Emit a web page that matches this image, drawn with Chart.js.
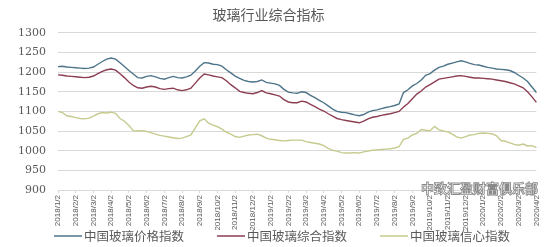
<!DOCTYPE html>
<html>
<head>
<meta charset="utf-8">
<script src="https://cdn.jsdelivr.net/npm/chart.js@4.4.1/dist/chart.umd.min.js"></script>
<style>
  html, body { margin: 0; padding: 0; background: #fff; }
  #wrap { width: 548px; height: 247px; }
</style>
</head>
<body>
<div id="wrap"><canvas id="glassChart" width="548" height="247"></canvas></div>
<script>
// 玻璃行业综合指标 – weekly readings, 4 points per month, 2018/1/2 .. 2020/4/2

const monthLabels = [
  "2018/1/2", "2018/2/2", "2018/3/2", "2018/4/2", "2018/5/2", "2018/6/2", "2018/7/2",
  "2018/8/2", "2018/9/2", "2018/10/2", "2018/11/2", "2018/12/2", "2019/1/2", "2019/2/2",
  "2019/3/2", "2019/4/2", "2019/5/2", "2019/6/2", "2019/7/2", "2019/8/2", "2019/9/2",
  "2019/10/2", "2019/11/2", "2019/12/2", "2020/1/2", "2020/2/2", "2020/3/2", "2020/4/2",
];
const pointsPerMonth = 4;

const seriesNames = ["中国玻璃价格指数", "中国玻璃综合指数", "中国玻璃信心指数"];

const priceIndex = [
  1214, 1215, 1213, 1212, 1211, 1210, 1209, 1210, 1213, 1220, 1227, 1233, 1236, 1233, 1224, 1214,
  1204, 1195, 1186, 1185, 1189, 1191, 1188, 1184, 1182, 1186, 1189, 1186, 1185, 1188, 1192, 1203,
  1215, 1224, 1223, 1220, 1219, 1215, 1206, 1198, 1190, 1184, 1179, 1176, 1175, 1176, 1180, 1174,
  1172, 1170, 1166, 1156, 1149, 1147, 1146, 1150, 1148, 1141, 1135, 1128, 1122, 1114, 1106, 1100,
  1098, 1097, 1094, 1091, 1089, 1092, 1098, 1102, 1104, 1107, 1110, 1112, 1115, 1119, 1148, 1155,
  1165, 1171, 1180, 1192, 1196, 1205, 1212, 1215, 1220, 1223, 1226, 1229, 1226, 1222, 1219, 1218,
  1215, 1212, 1210, 1208, 1207, 1206, 1204, 1199, 1192, 1185, 1176, 1162, 1148,
];

const compositeIndex = [
  1193, 1192, 1190, 1189, 1188, 1187, 1186, 1187, 1190, 1196, 1202, 1206, 1208, 1205, 1196, 1186,
  1175, 1166, 1160, 1159, 1162, 1164, 1162, 1158, 1156, 1158, 1159, 1155, 1153, 1155, 1159, 1172,
  1185, 1195, 1193, 1190, 1188, 1186, 1178, 1168, 1160, 1151, 1148, 1146, 1145, 1148, 1153, 1147,
  1145, 1142, 1139, 1130, 1124, 1122, 1122, 1126, 1124, 1118, 1112, 1106, 1101, 1094, 1088, 1082,
  1079, 1077, 1075, 1073, 1071, 1075, 1081, 1085, 1087, 1090, 1092, 1094, 1097, 1100, 1111, 1120,
  1132, 1144, 1152, 1162, 1168, 1175, 1182, 1184, 1186, 1188, 1190, 1191, 1189, 1187, 1185, 1185,
  1184, 1183, 1182, 1180, 1178, 1176, 1173, 1170, 1165, 1160, 1150, 1137, 1123,
];

const confidenceIndex = [
  1100, 1097, 1089, 1087, 1084, 1082, 1081, 1083, 1088, 1094, 1097, 1096, 1098, 1095, 1082, 1075,
  1064, 1051, 1050, 1051, 1049, 1046, 1042, 1039, 1037, 1035, 1033, 1031, 1032, 1036, 1040, 1058,
  1076, 1081, 1070, 1065, 1061, 1055, 1047, 1042, 1036, 1034, 1037, 1040, 1041, 1042, 1038, 1032,
  1029, 1028, 1026, 1025, 1026, 1027, 1027, 1027, 1023, 1021, 1019, 1017, 1013, 1006, 1001, 999,
  995, 994, 994, 995, 994, 997, 999, 1001, 1002, 1003, 1004, 1005, 1007, 1010, 1029, 1032,
  1040, 1044, 1054, 1052, 1051, 1062, 1053, 1050, 1048, 1042, 1035, 1032, 1036, 1040, 1041, 1044,
  1045, 1044, 1043, 1038, 1026, 1024, 1020, 1016, 1014, 1017, 1012, 1013, 1008,
];

const yTicks = { min: 900, max: 1300, step: 50 };

const colors = ["#4d7489", "#8c3e52", "#c6ca8e"];
const textColor = "#595959";
const gridColor = "#d9d9d9";
const cjkFont = "'Noto Sans CJK SC'";

// one category per weekly point; only month starts carry a label
const labels = priceIndex.map((_, i) =>
  i % pointsPerMonth === 0 ? monthLabels[i / pointsPerMonth] : "");

// legend drawn by hand: line, small gap, text, wide gap (tight vertically like the source)
const lineLegend = {
  id: "lineLegend",
  afterDraw(chart) {
    const c = chart.ctx;
    const y = 236;
    let x = 54;
    c.save();
    c.font = `12.5px ${cjkFont}`;
    c.textBaseline = "middle";
    chart.data.datasets.forEach(ds => {
      c.strokeStyle = ds.borderColor;
      c.lineWidth = 1.5;
      c.beginPath();
      c.moveTo(x, y);
      c.lineTo(x + 28, y);
      c.stroke();
      x += 30;
      c.fillStyle = textColor;
      c.fillText(ds.label, x, y);
      x += c.measureText(ds.label).width + 33;
    });
    c.restore();
  },
};

const watermark = {
  id: "watermark",
  afterDraw(chart) {
    const c = chart.ctx;
    c.save();
    c.font = `bold 13px ${cjkFont}`;
    c.textBaseline = "middle";
    c.lineWidth = 0.9;
    c.strokeStyle = "#8a8a8a";
    c.fillStyle = "rgba(255,255,255,0.9)";
    c.fillText("中致汇盈财富俱乐部", 421, 188);
    c.strokeText("中致汇盈财富俱乐部", 421, 188);
    c.restore();
  },
};

new Chart(document.getElementById("glassChart"), {
  type: "line",
  data: {
    labels,
    datasets: [priceIndex, compositeIndex, confidenceIndex].map((data, k) => ({
      label: seriesNames[k],
      data,
      borderColor: colors[k],
      backgroundColor: colors[k],
      borderWidth: 1.4,
      pointRadius: 0,
      tension: 0,
    })),
  },
  options: {
    responsive: false,
    animation: false,
    layout: { padding: { left: 0, right: 11, top: 2, bottom: 17 } },
    plugins: {
      title: {
        display: true,
        text: "玻璃行业综合指标",
        color: textColor,
        font: { size: 14, family: cjkFont, weight: "normal" },
        padding: { top: 4, bottom: 10 },
      },
      legend: { display: false },
      tooltip: { enabled: false },
    },
    scales: {
      y: {
        min: yTicks.min,
        max: yTicks.max,
        afterFit: s => { s.width = 58; },
        ticks: {
          stepSize: yTicks.step,
          color: textColor,
          padding: 12,
          font: { size: 11, family: "'DejaVu Serif'" },
          callback: v => String(v),
        },
        grid: { color: gridColor, drawTicks: false },
        border: { display: false },
      },
      x: {
        afterFit: s => { s.height = 40; },
        ticks: {
          autoSkip: false,
          maxRotation: 90,
          minRotation: 90,
          color: textColor,
          padding: 2,
          font: { size: 8, family: "'Liberation Sans'" },
        },
        grid: {
          drawOnChartArea: false,
          tickLength: 3,
          color: ctx => (ctx.index % pointsPerMonth === 0 ? gridColor : "rgba(0,0,0,0)"),
        },
        border: { display: true, color: gridColor },
      },
    },
  },
  plugins: [lineLegend, watermark],
});
</script>
</body>
</html>
